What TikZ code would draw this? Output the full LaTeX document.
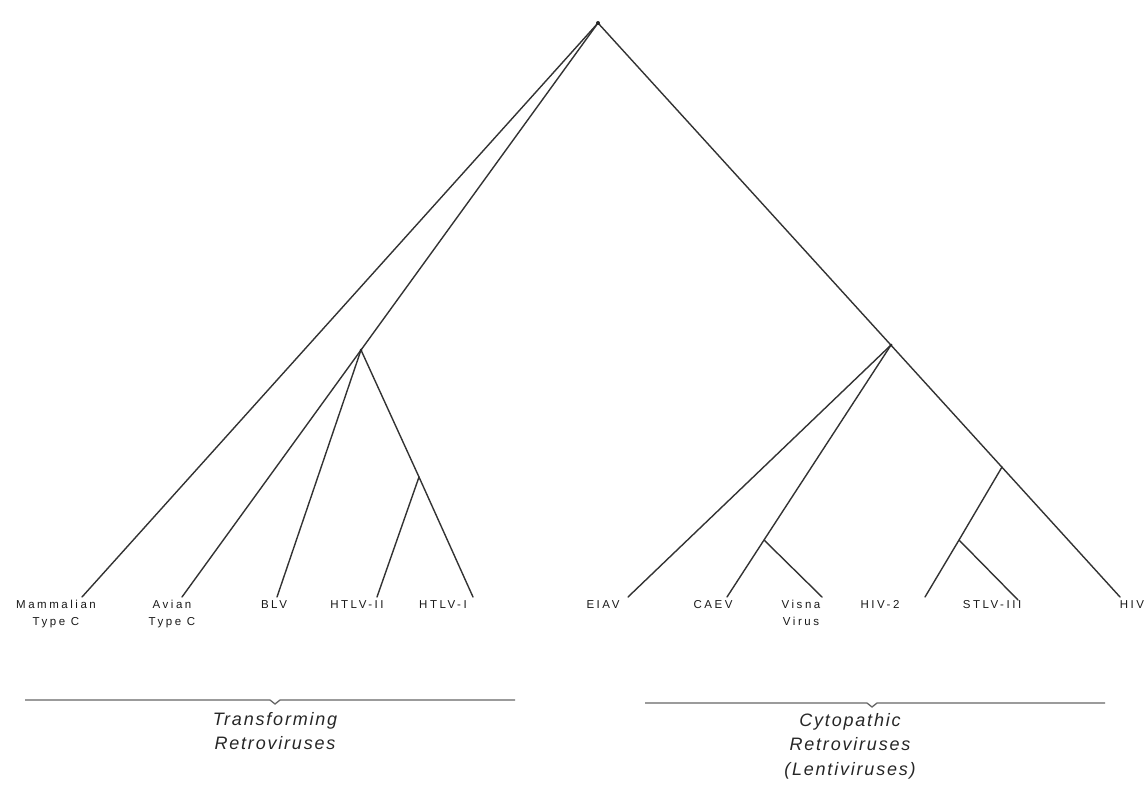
\documentclass[tikz,border=0pt]{standalone}
\usepackage{fontspec}
\setmainfont{Liberation Sans}
\begin{document}
\begin{tikzpicture}[x=1pt,y=-1pt,
  branch/.style={line width=1.4pt, draw=black!80, line cap=round},
  leaflabel/.style={font=\fontsize{11.5}{17}\selectfont\addfontfeature{LetterSpace=22}, text=black!90, align=center, inner sep=0pt, anchor=north},
  grouplabel/.style={font=\fontsize{18}{24.5}\selectfont\itshape\addfontfeature{LetterSpace=10}, text=black!85, align=center, inner sep=0pt, anchor=north},
  grouprule/.style={line width=1.3pt, draw=black!60},
  junction/.style={circle, fill=black!85, inner sep=0pt, minimum size=4pt}]
\useasboundingbox (0,0) rectangle (1147,801);
% internal nodes
\coordinate (root) at (598,23);
\coordinate (L1) at (361,350);
\coordinate (L2) at (419,477);
\coordinate (R1) at (891,345);
\coordinate (R2) at (1002,467);
\coordinate (R3) at (764,540);
\coordinate (R4) at (959,540);
% leaves
\coordinate (mam) at (82,597);
\coordinate (avi) at (182,597);
\coordinate (blv) at (277,597);
\coordinate (ht2) at (377,597);
\coordinate (ht1) at (473,597);
\coordinate (eia) at (628,597);
\coordinate (cae) at (727,597);
\coordinate (vis) at (822,597);
\coordinate (hv2) at (925,597);
\coordinate (stl) at (1018,600);
\coordinate (hiv) at (1120,597);
% branches
\draw[branch] (mam) -- (root) -- (hiv);
\draw[branch] (root) -- (L1) -- (avi);
\draw[branch] (L1) -- (blv);
\draw[branch] (L1) -- (L2) -- (ht1);
\draw[branch] (L2) -- (ht2);
\draw[branch] (R1) -- (eia);
\draw[branch] (R1) -- (R3) -- (cae);
\draw[branch] (R3) -- (vis);
\draw[branch] (R2) -- (R4) -- (hv2);
\draw[branch] (R4) -- (stl);
\node[junction] (rootdot) at (root) {};
\node[junction, minimum size=3pt] (L1dot) at (L1) {};
\node[junction, minimum size=3pt] (R1dot) at (R1) {};
% leaf labels
\node[leaflabel] (tmam) at (56,600) {Mammalian\\Type C};
\node[leaflabel] (tavi) at (172,600) {Avian\\Type C};
\node[leaflabel] (tblv) at (274,600) {BLV};
\node[leaflabel] (tht2) at (357,600) {HTLV-II};
\node[leaflabel] (tht1) at (443,600) {HTLV-I};
\node[leaflabel] (teia) at (603,600) {EIAV};
\node[leaflabel] (tcae) at (713,600) {CAEV};
\node[leaflabel] (tvis) at (801,600) {Visna\\Virus};
\node[leaflabel] (thv2) at (880,600) {HIV-2};
\node[leaflabel] (tstl) at (992,600) {STLV-III};
\node[leaflabel] (thiv) at (1132,600) {HIV};
% group rules
\coordinate (la) at (25,700);
\coordinate (lb) at (515,700);
\coordinate (lt) at (275,704);
\coordinate (ra) at (645,703);
\coordinate (rb) at (1105,703);
\coordinate (rt) at (872,707);
\draw[grouprule] (la) -- ([xshift=-5pt]la -| lt) -- (lt) -- ([xshift=5pt]la -| lt) -- (lb);
\draw[grouprule] (ra) -- ([xshift=-5pt]ra -| rt) -- (rt) -- ([xshift=5pt]ra -| rt) -- (rb);
% group labels
\node[grouplabel] (gtr) at (275,712) {Transforming\\Retroviruses};
\node[grouplabel] (gcy) at (850,713) {Cytopathic\\Retroviruses\\(Lentiviruses)};
\end{tikzpicture}
\end{document}
